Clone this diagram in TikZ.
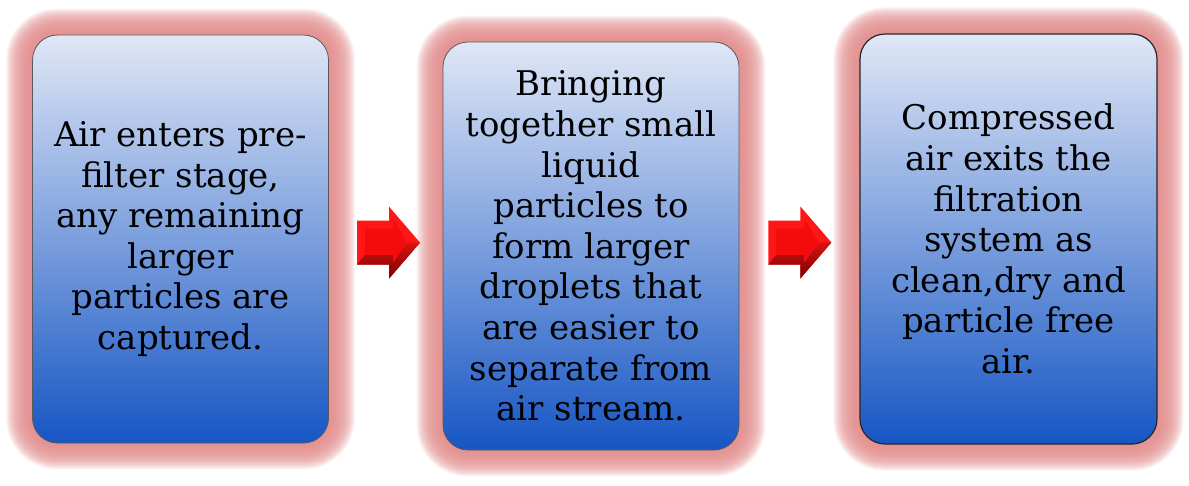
\documentclass[tikz,border=0pt]{standalone}
\usepackage{fontspec}
\setmainfont{DejaVu Serif}
\usetikzlibrary{backgrounds,calc}
\definecolor{glowc}{RGB}{226,140,140}
\definecolor{boxtop}{RGB}{224,231,246}
\definecolor{boxbot}{RGB}{22,86,196}
\definecolor{arrred}{RGB}{255,22,22}
\definecolor{arrface}{RGB}{244,12,12}
\definecolor{arrdark}{RGB}{120,0,0}
\tikzset{
  stagebox/.style={rectangle, rounded corners=25pt, draw=black!65, line width=0.8pt,
    top color=boxtop, bottom color=boxbot, minimum width=296pt, minimum height=408pt,
    align=center, inner sep=0pt, text=black, font=\fontsize{34}{40.6}\selectfont},
  glowline/.style={draw=glowc, opacity=0.1, rounded corners=25pt},
  blockarrow/.pic={
    \fill[arrred] (-31,-22) -- (1,-22) -- (1,-36) -- (32,0) -- (1,36) -- (1,22) -- (-31,22) -- cycle;
    \shade[top color=arrred!85!black, bottom color=arrdark]
      (-31,22) -- (1,22) -- (1,36) -- (32,0) -- (19,0) -- (5,20) -- (5,12) -- (-23,12) -- cycle;
    \fill[arrface] (-23,-14) -- (5,-14) -- (5,-24) -- (19,0) -- (5,20) -- (5,12) -- (-23,12) -- cycle;
  }
}
\begin{document}
\begin{tikzpicture}[x=1pt,y=-1pt]
\useasboundingbox (0,0) rectangle (1189,485);
\node[stagebox] (b1) at (180.5,239) {Air enters pre-\\filter stage,\\any remaining\\larger\\particles are\\captured.};
\node[stagebox] (b2) at (591,246) {Bringing\\together small\\liquid\\particles to\\form larger\\droplets that\\are easier to\\separate from\\air stream.};
\node[stagebox, draw=black!85, line width=1.2pt, minimum width=297pt, minimum height=410pt] (b3) at (1008.5,239) {Compressed\\air exits the\\filtration\\system as\\clean,dry and\\particle free\\air.};
\begin{scope}[on background layer]
  \foreach \n in {b1,b2,b3}{
    \foreach \w in {2,4,...,52}{
      \draw[glowline, line width=\w pt] (\n.south west) rectangle (\n.north east);
    }
  }
\end{scope}
\pic at ($(b1.east)!0.52!(b2.west)$) {blockarrow};
\pic at ($(b2.east)!0.5!(b3.west)$) {blockarrow};
\end{tikzpicture}
\end{document}
